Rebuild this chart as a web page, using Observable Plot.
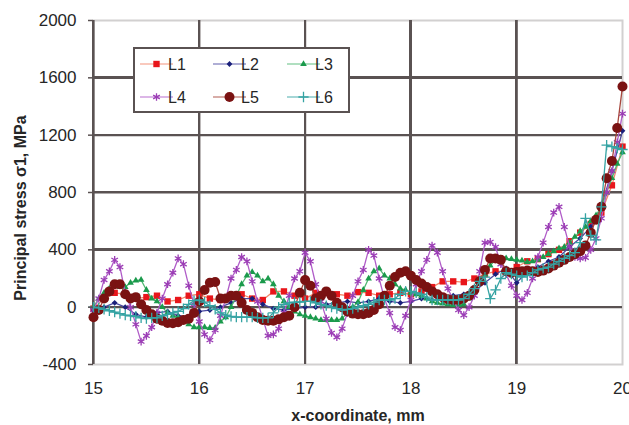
<!DOCTYPE html>
<html><head><meta charset="utf-8">
<script src="https://cdn.jsdelivr.net/npm/d3@7"></script>
<script src="https://cdn.jsdelivr.net/npm/@observablehq/plot@0.6"></script>
<style>
body{margin:0;background:#fff;overflow:hidden;}
#wrap{position:relative;width:629px;height:425px;}
</style></head><body><div id="wrap"></div>
<script>
// x positions (mm)
const x10 = [15.0,15.1,15.2,15.3,15.4,15.5,15.6,15.7,15.8,15.9,
 16.0,16.1,16.2,16.3,16.4,16.5,16.6,16.7,16.8,16.9,
 17.0,17.1,17.2,17.3,17.4,17.5,17.6,17.7,17.8,17.9,
 18.0,18.1,18.2,18.3,18.4,18.5,18.6,18.7,18.8,18.9,
 19.0,19.1,19.2,19.3,19.4,19.5,19.6,19.7,19.8,19.9,20.0];
const x05 = [15.00,15.05,15.10,15.15,15.20,15.25,15.30,15.35,15.40,15.45,
 15.50,15.55,15.60,15.65,15.70,15.75,15.80,15.85,15.90,15.95,
 16.00,16.05,16.10,16.15,16.20,16.25,16.30,16.35,16.40,16.45,
 16.50,16.55,16.60,16.65,16.70,16.75,16.80,16.85,16.90,16.95,
 17.00,17.05,17.10,17.15,17.20,17.25,17.30,17.35,17.40,17.45,
 17.50,17.55,17.60,17.65,17.70,17.75,17.80,17.85,17.90,17.95,
 18.00,18.05,18.10,18.15,18.20,18.25,18.30,18.35,18.40,18.45,
 18.50,18.55,18.60,18.65,18.70,18.75,18.80,18.85,18.90,18.95,
 19.00,19.05,19.10,19.15,19.20,19.25,19.30,19.35,19.40,19.45,
 19.50,19.55,19.60,19.65,19.70,19.75,19.80,19.85,19.90,19.95,20.00];

// principal stress (MPa)
const L1 = [-10,60,100,90,60,70,80,40,50,80,
 90,60,50,80,90,60,50,110,110,80,
 60,100,100,90,80,105,100,80,90,100,
 90,110,140,180,180,175,200,230,250,250,
 280,320,335,370,400,460,520,580,660,850,1120];
const L2 = [-20,0,30,0,-50,-70,-40,-30,-60,-70,
 -30,-20,0,30,60,60,20,-10,-20,-10,
 0,0,20,30,40,30,40,60,40,30,
 40,60,50,60,80,90,110,170,230,270,
 170,250,280,320,350,420,480,560,700,950,1230];
const L3 = [0,60,100,130,150,140,140,170,185,190,
 120,60,40,0,-40,-60,-70,-80,-120,-140,
 -140,-140,-145,-145,-100,-70,0,80,160,220,
 245,220,180,200,160,80,40,0,-30,-50,
 -60,-70,-80,-90,-90,-90,-90,-80,-40,0,
 35,120,200,250,270,220,200,160,130,120,
 100,90,80,60,40,30,25,20,15,15,
 20,60,130,170,230,290,330,340,340,335,
 330,325,315,320,330,350,370,390,410,420,
 450,490,530,560,600,640,700,800,900,1000,1080];
const L4 = [-20,60,190,250,330,280,100,0,-120,-240,
 -200,-140,-40,60,160,240,340,300,150,20,
 -100,-190,-230,-160,-60,60,200,260,350,320,
 180,40,-80,-200,-190,-150,-40,80,200,250,
 380,320,160,40,-80,-180,-210,-150,-40,80,
 180,260,400,360,200,60,-40,-140,-160,-60,
 50,160,250,330,430,380,250,130,50,-20,
 -56,0,80,250,450,455,420,300,230,150,
 80,50,100,200,350,450,560,660,700,560,
 420,350,340,345,400,480,620,800,950,1150,1350];
const L5 = [-70,-20,60,110,160,160,90,60,70,20,
 -20,-50,-80,-95,-110,-112,-105,-90,-80,-40,
 40,120,170,175,60,60,80,80,30,-20,
 -40,-70,-90,-95,-95,-85,-70,-60,0,100,
 190,150,60,80,110,80,30,0,-30,-45,
 -50,-50,-40,-20,20,80,150,210,240,250,
 220,190,165,140,110,90,70,55,50,50,
 60,80,120,180,260,340,340,330,250,240,
 245,250,255,250,245,255,270,290,310,330,
 350,370,390,430,520,610,700,900,1020,1250,1540];
const L6 = [0,-5,-15,-25,-35,-45,-55,-60,-65,-75,
 -80,-75,-75,-60,-50,-40,-30,-10,20,45,
 50,35,10,-15,-40,-55,-65,-70,-70,-70,
 -70,-75,-75,-75,-40,0,20,30,35,35,
 40,40,30,20,10,0,-10,-20,-15,-10,
 0,10,20,35,50,50,50,60,90,110,
 110,100,90,70,50,50,50,50,50,50,
 60,90,130,180,210,60,120,200,240,230,
 220,210,220,240,260,270,280,300,320,340,
 360,380,450,620,500,470,700,1130,1120,1110,1100];

const seriesNames = ["L1","L2","L3","L4","L5","L6"];
const yTicks = [-400,0,400,800,1200,1600,2000];
const yGrid = [0,400,800,1200,1600];
const xTicks = [15,16,17,18,19,20];
const xGrid = [15,16,17,18,19];

const styles = {
  L1:{xs:x10, ys:L1, line:"#f2876a", mark:"#e8161b", symbol:"square", r:3.6, filled:true},
  L2:{xs:x10, ys:L2, line:"#4c4aa0", mark:"#1a1f7a", symbol:"diamond2", r:2.6, filled:true},
  L3:{xs:x05, ys:L3, line:"#4fb872", mark:"#1b9a4c", symbol:"triangle2", r:3.2, filled:true},
  L4:{xs:x05, ys:L4, line:"#b05cc8", mark:"#9b3db5", symbol:"asterisk", r:3.6, filled:false},
  L5:{xs:x05, ys:L5, line:"#a8483e", mark:"#7a1212", symbol:"circle", r:5, filled:true},
  L6:{xs:x05, ys:L6, line:"#35a3a3", mark:"#35a3a3", symbol:"plus", r:3.4, filled:false}
};

const dataOf = n => styles[n].xs.map((x,i)=>({x, y:styles[n].ys[i]}));

const marks = [
  Plot.frame({stroke:"#d2d0d0", strokeWidth:2}),
  Plot.ruleY(yGrid, {stroke:"#5a5252", strokeWidth:2.2}),
  Plot.ruleX(xGrid, {stroke:"#5a5252", strokeWidth:2.2})
];
for (const n of seriesNames) {
  const s = styles[n], d = dataOf(n);
  marks.push(Plot.line(d, {x:"x", y:"y", stroke:s.line, strokeWidth:1.3}));
  marks.push(Plot.dot(d, s.filled
    ? {x:"x", y:"y", symbol:()=>s.symbol, r:s.r, fill:s.mark, stroke:"none"}
    : {x:"x", y:"y", symbol:()=>s.symbol, r:s.r, stroke:s.mark, strokeWidth:1.3, fill:"none"}));
}
marks.push(Plot.axisY(yTicks, {tickSize:5, tickPadding:12, fontSize:17, label:null, tickFormat:d=>String(d), stroke:"#5a5252", strokeWidth:1.5}));
marks.push(Plot.axisX(xTicks, {tickSize:0, tickPadding:17, fontSize:17, label:null, tickFormat:d=>String(d)}));

const chart = Plot.plot({
  width:629, height:425,
  marginLeft:93, marginRight:7, marginTop:20, marginBottom:61,
  x:{domain:[15,20]},
  y:{domain:[-400,2000]},
  style:{fontFamily:"'Liberation Sans', Arial, sans-serif", color:"#262626", maxWidth:"none"},
  marks
});
document.getElementById("wrap").appendChild(chart);

const svg = d3.select(chart);
// extra grid layer drawn from the chart's own scales, placed under the data
const xs = chart.scale("x"), ys = chart.scale("y");
const firstLine = chart.querySelector('g[aria-label="line"]');
const gridG = d3.create("svg:g").attr("aria-label","grid");
yGrid.forEach(v => gridG.append("line")
  .attr("x1", xs.apply(15)).attr("x2", xs.apply(20))
  .attr("y1", Math.round(ys.apply(v))).attr("y2", Math.round(ys.apply(v)))
  .attr("stroke","#5a5252").attr("stroke-width",2));
xGrid.forEach(v => gridG.append("line")
  .attr("x1", Math.round(xs.apply(v))).attr("x2", Math.round(xs.apply(v)))
  .attr("y1", ys.apply(2000)).attr("y2", ys.apply(-400))
  .attr("stroke","#5a5252").attr("stroke-width",2));
chart.insertBefore(gridG.node(), firstLine);

svg.append("text").attr("x",358).attr("y",421).attr("text-anchor","middle")
  .attr("font-weight","bold").attr("font-size",16).attr("fill","#262626")
  .attr("font-family","'Liberation Sans', Arial, sans-serif")
  .text("x-coordinate, mm");
svg.append("text").attr("transform","translate(26,208) rotate(-90)").attr("text-anchor","middle")
  .attr("font-weight","bold").attr("font-size",16).attr("fill","#262626")
  .attr("font-family","'Liberation Sans', Arial, sans-serif")
  .text("Principal stress σ1, MPa");

// legend
const lg = svg.append("g");
lg.append("rect").attr("x",134).attr("y",48).attr("width",215).attr("height",64)
  .attr("fill","#fff").attr("stroke","#5a5252").attr("stroke-width",2);
const symMap = {square:d3.symbolSquare, diamond2:d3.symbolDiamond2, triangle2:d3.symbolTriangle2,
  asterisk:d3.symbolAsterisk, circle:d3.symbolCircle, plus:d3.symbolPlus};
const colX = [140,213,287], rowY = [64,97];
seriesNames.forEach((n,i)=>{
  const s = styles[n];
  const cx = colX[i%3], cy = rowY[Math.floor(i/3)];
  lg.append("line").attr("x1",cx).attr("x2",cx+33).attr("y1",cy).attr("y2",cy)
    .attr("stroke",s.line).attr("stroke-width",1.5).attr("stroke-opacity",0.6);
  const size = Math.PI*s.r*s.r;
  const p = lg.append("path").attr("transform",`translate(${cx+16.5},${cy})`)
    .attr("d", d3.symbol(symMap[s.symbol], size)());
  if (s.filled) p.attr("fill",s.mark); else p.attr("fill","none").attr("stroke",s.mark).attr("stroke-width",1.3);
  lg.append("text").attr("x",cx+37).attr("y",cy+6).attr("font-size",16)
    .attr("font-family","'Liberation Sans', Arial, sans-serif").attr("fill","#262626").text(n);
});
</script></body></html>
